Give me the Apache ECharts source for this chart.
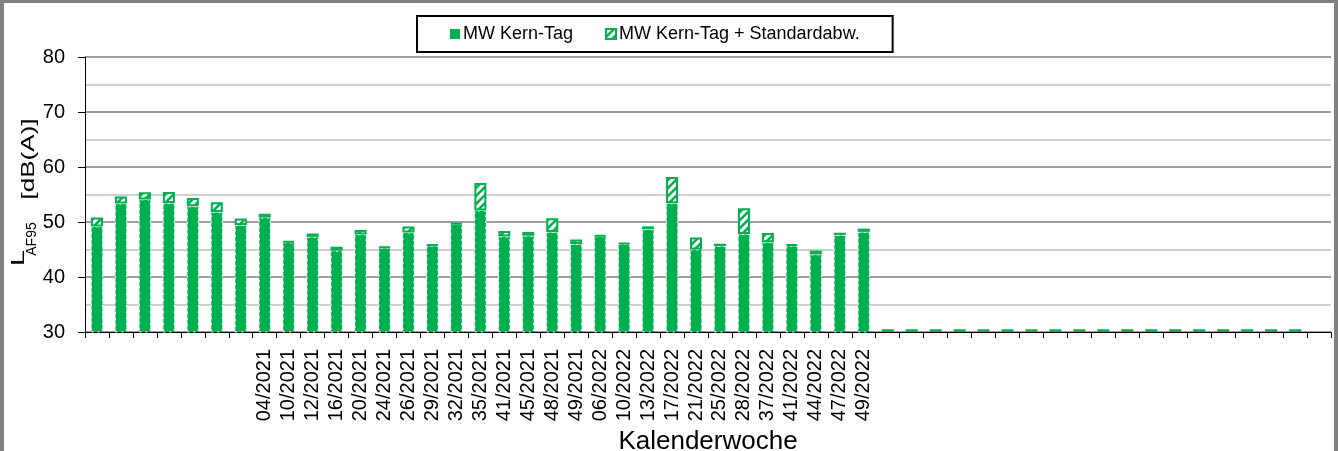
<!DOCTYPE html>
<html>
<head>
<meta charset="utf-8">
<script src="https://cdn.jsdelivr.net/npm/echarts@6/dist/echarts.min.js"></script>
<style>
  html, body { margin: 0; padding: 0; background: #fff; }
  #chart { width: 1338px; height: 451px; }
</style>
</head>
<body>
<div id="chart"></div>
<script>
// Kalenderwochen (die ersten 7 Balken und der Rest ohne Beschriftung)
const weeks = [
  '', '', '', '', '', '', '',
  '04/2021', '10/2021', '12/2021', '16/2021', '20/2021', '24/2021', '26/2021', '29/2021',
  '32/2021', '35/2021', '41/2021', '45/2021', '48/2021', '49/2021', '06/2022', '10/2022',
  '13/2022', '17/2022', '21/2022', '25/2022', '28/2022', '37/2022', '41/2022', '44/2022',
  '47/2022', '49/2022',
  '', '', '', '', '', '', '', '', '', '', '', '', '', '', '', '', '', '', ''
]

// Mittelwert Kern-Tag [dB(A)]
const mwKernTag = [
  49.2, 53.35, 54.1, 53.45, 52.85, 51.8, 49.45,
  50.8, 46.3, 47.3, 44.8, 47.75, 45.3, 48.1, 45.7,
  49.6, 52.1, 47.35, 47.5, 48.2, 46.0, 47.4, 46.0,
  48.7, 53.4, 45.0, 45.65, 47.8, 46.3, 45.7, 44.1,
  47.65, 48.2,
  30.5, 30.5, 30.5, 30.5, 30.5, 30.5, 30.5, 30.5, 30.5, 30.5, 30.5, 30.5, 30.5, 30.5, 30.5, 30.5, 30.5, 30.5, '-'
]

// Standardabweichung (auf den Mittelwert gestapelt)
const standardabw = [
  1.6, 1.3, 1.3, 2.0, 1.5, 1.8, 1.2,
  0.7, 0.2, 0.6, 0.7, 0.8, 0.2, 1.1, 0.2,
  0.2, 5.0, 1.0, 0.7, 2.5, 0.8, 0.2, 0.2,
  0.5, 4.8, 2.2, 0.4, 4.7, 1.7, 0.2, 0.7,
  0.4, 0.6,
  '-', '-', '-', '-', '-', '-', '-', '-', '-', '-', '-', '-', '-', '-', '-', '-', '-', '-', '-'
]

const yTicks = [30, 40, 50, 60, 70, 80]

const GREEN = '#00B050'
const FONT = 'Liberation Sans, Arial, sans-serif'

// schraffiertes Muster fuer die Standardabweichung
function hatchPattern() {
  const c = document.createElement('canvas')
  c.width = 8
  c.height = 8
  const g = c.getContext('2d')
  g.fillStyle = '#fff'
  g.fillRect(0, 0, 8, 8)
  g.strokeStyle = GREEN
  g.lineWidth = 2.5
  g.beginPath()
  g.moveTo(0, 8); g.lineTo(8, 0)
  g.moveTo(-2, 2); g.lineTo(2, -2)
  g.moveTo(6, 10); g.lineTo(10, 6)
  g.stroke()
  return c
}

// leere Wochen nur als flacher Stummel ohne Rand
const baseData = mwKernTag.map(v => (typeof v === 'number' && v < 31)
  ? { value: v, itemStyle: { borderWidth: 0 } }
  : v)

// gedrehter Achsentitel, Teil fuer Teil
function yTitlePart(text, x, y, size, scale) {
  return {
    type: 'text',
    x: x,
    y: y,
    rotation: Math.PI / 2,
    scaleX: scale,
    silent: true,
    style: {
      text: text,
      align: 'center',
      verticalAlign: 'middle',
      fill: '#000',
      fontSize: size,
      fontFamily: FONT
    }
  }
}

const chart = echarts.init(document.getElementById('chart'), null, { renderer: 'canvas' })

chart.setOption({
  animation: false,
  textStyle: { fontFamily: FONT, color: '#000' },
  grid: {
    left: 85,
    right: 7,
    top: 57,
    bottom: 119,
    outerBoundsMode: 'none',
    containLabel: false
  },
  legend: {
    left: 417,
    top: 16,
    padding: [9, 33, 9, 33],
    borderColor: '#000',
    borderWidth: 2,
    itemWidth: 10,
    itemHeight: 10,
    itemGap: 32,
    icon: 'rect',
    textStyle: { fontSize: 18, fontFamily: FONT, color: '#000', padding: [0, 0, 0, -2] },
    data: [
      { name: 'MW Kern-Tag', itemStyle: { borderWidth: 0 } },
      { name: 'MW Kern-Tag + Standardabw.' }
    ]
  },
  xAxis: {
    type: 'category',
    data: weeks,
    boundaryGap: true,
    name: 'Kalenderwoche',
    nameLocation: 'middle',
    nameGap: 95,
    nameTextStyle: { fontSize: 26, fontFamily: FONT, color: '#000' },
    axisLine: { lineStyle: { color: '#000', width: 1 } },
    axisTick: { show: true, interval: 0, length: 6, lineStyle: { color: '#000' } },
    axisLabel: { interval: 0, rotate: 90, fontSize: 20, margin: 17, color: '#000' },
    splitLine: { show: false }
  },
  yAxis: {
    type: 'value',
    min: yTicks[0],
    max: yTicks[yTicks.length - 1],
    interval: 10,
    axisLine: { show: true, lineStyle: { color: '#000', width: 1 } },
    axisTick: { show: true, length: 7, lineStyle: { color: '#000' } },
    axisLabel: { fontSize: 20, margin: 20, color: '#000' },
    splitLine: { show: true, lineStyle: { color: '#7f7f7f', width: 1.5 } },
    minorTick: { show: false, splitNumber: 2 },
    minorSplitLine: { show: true, lineStyle: { color: '#c0c0c0', width: 1.5 } }
  },
  graphic: [
    {
      // grauer Rahmen um das Diagramm
      type: 'rect',
      silent: true,
      shape: { x: 2, y: 1, width: 1334, height: 500 },
      style: { fill: 'none', stroke: '#808080', lineWidth: 4 }
    },
    // Achsentitel L_AF95  [dB(A)]
    yTitlePart('L', 19, 258, 19, 1.5),
    yTitlePart('AF95', 32, 239, 14, 1.0),
    yTitlePart('[dB(A)]', 29, 159, 18, 1.45)
  ],
  series: [
    {
      name: 'MW Kern-Tag',
      type: 'bar',
      stack: 'kern',
      barWidth: 12,
      itemStyle: {
        color: GREEN,
        borderColor: '#fff',
        borderWidth: 1,
        borderType: [2, 4]
      },
      data: baseData
    },
    {
      name: 'MW Kern-Tag + Standardabw.',
      type: 'bar',
      stack: 'kern',
      barWidth: 12,
      itemStyle: {
        color: { image: hatchPattern(), repeat: 'repeat' },
        borderColor: GREEN,
        borderWidth: 2
      },
      data: standardabw
    }
  ]
})
</script>
</body>
</html>
